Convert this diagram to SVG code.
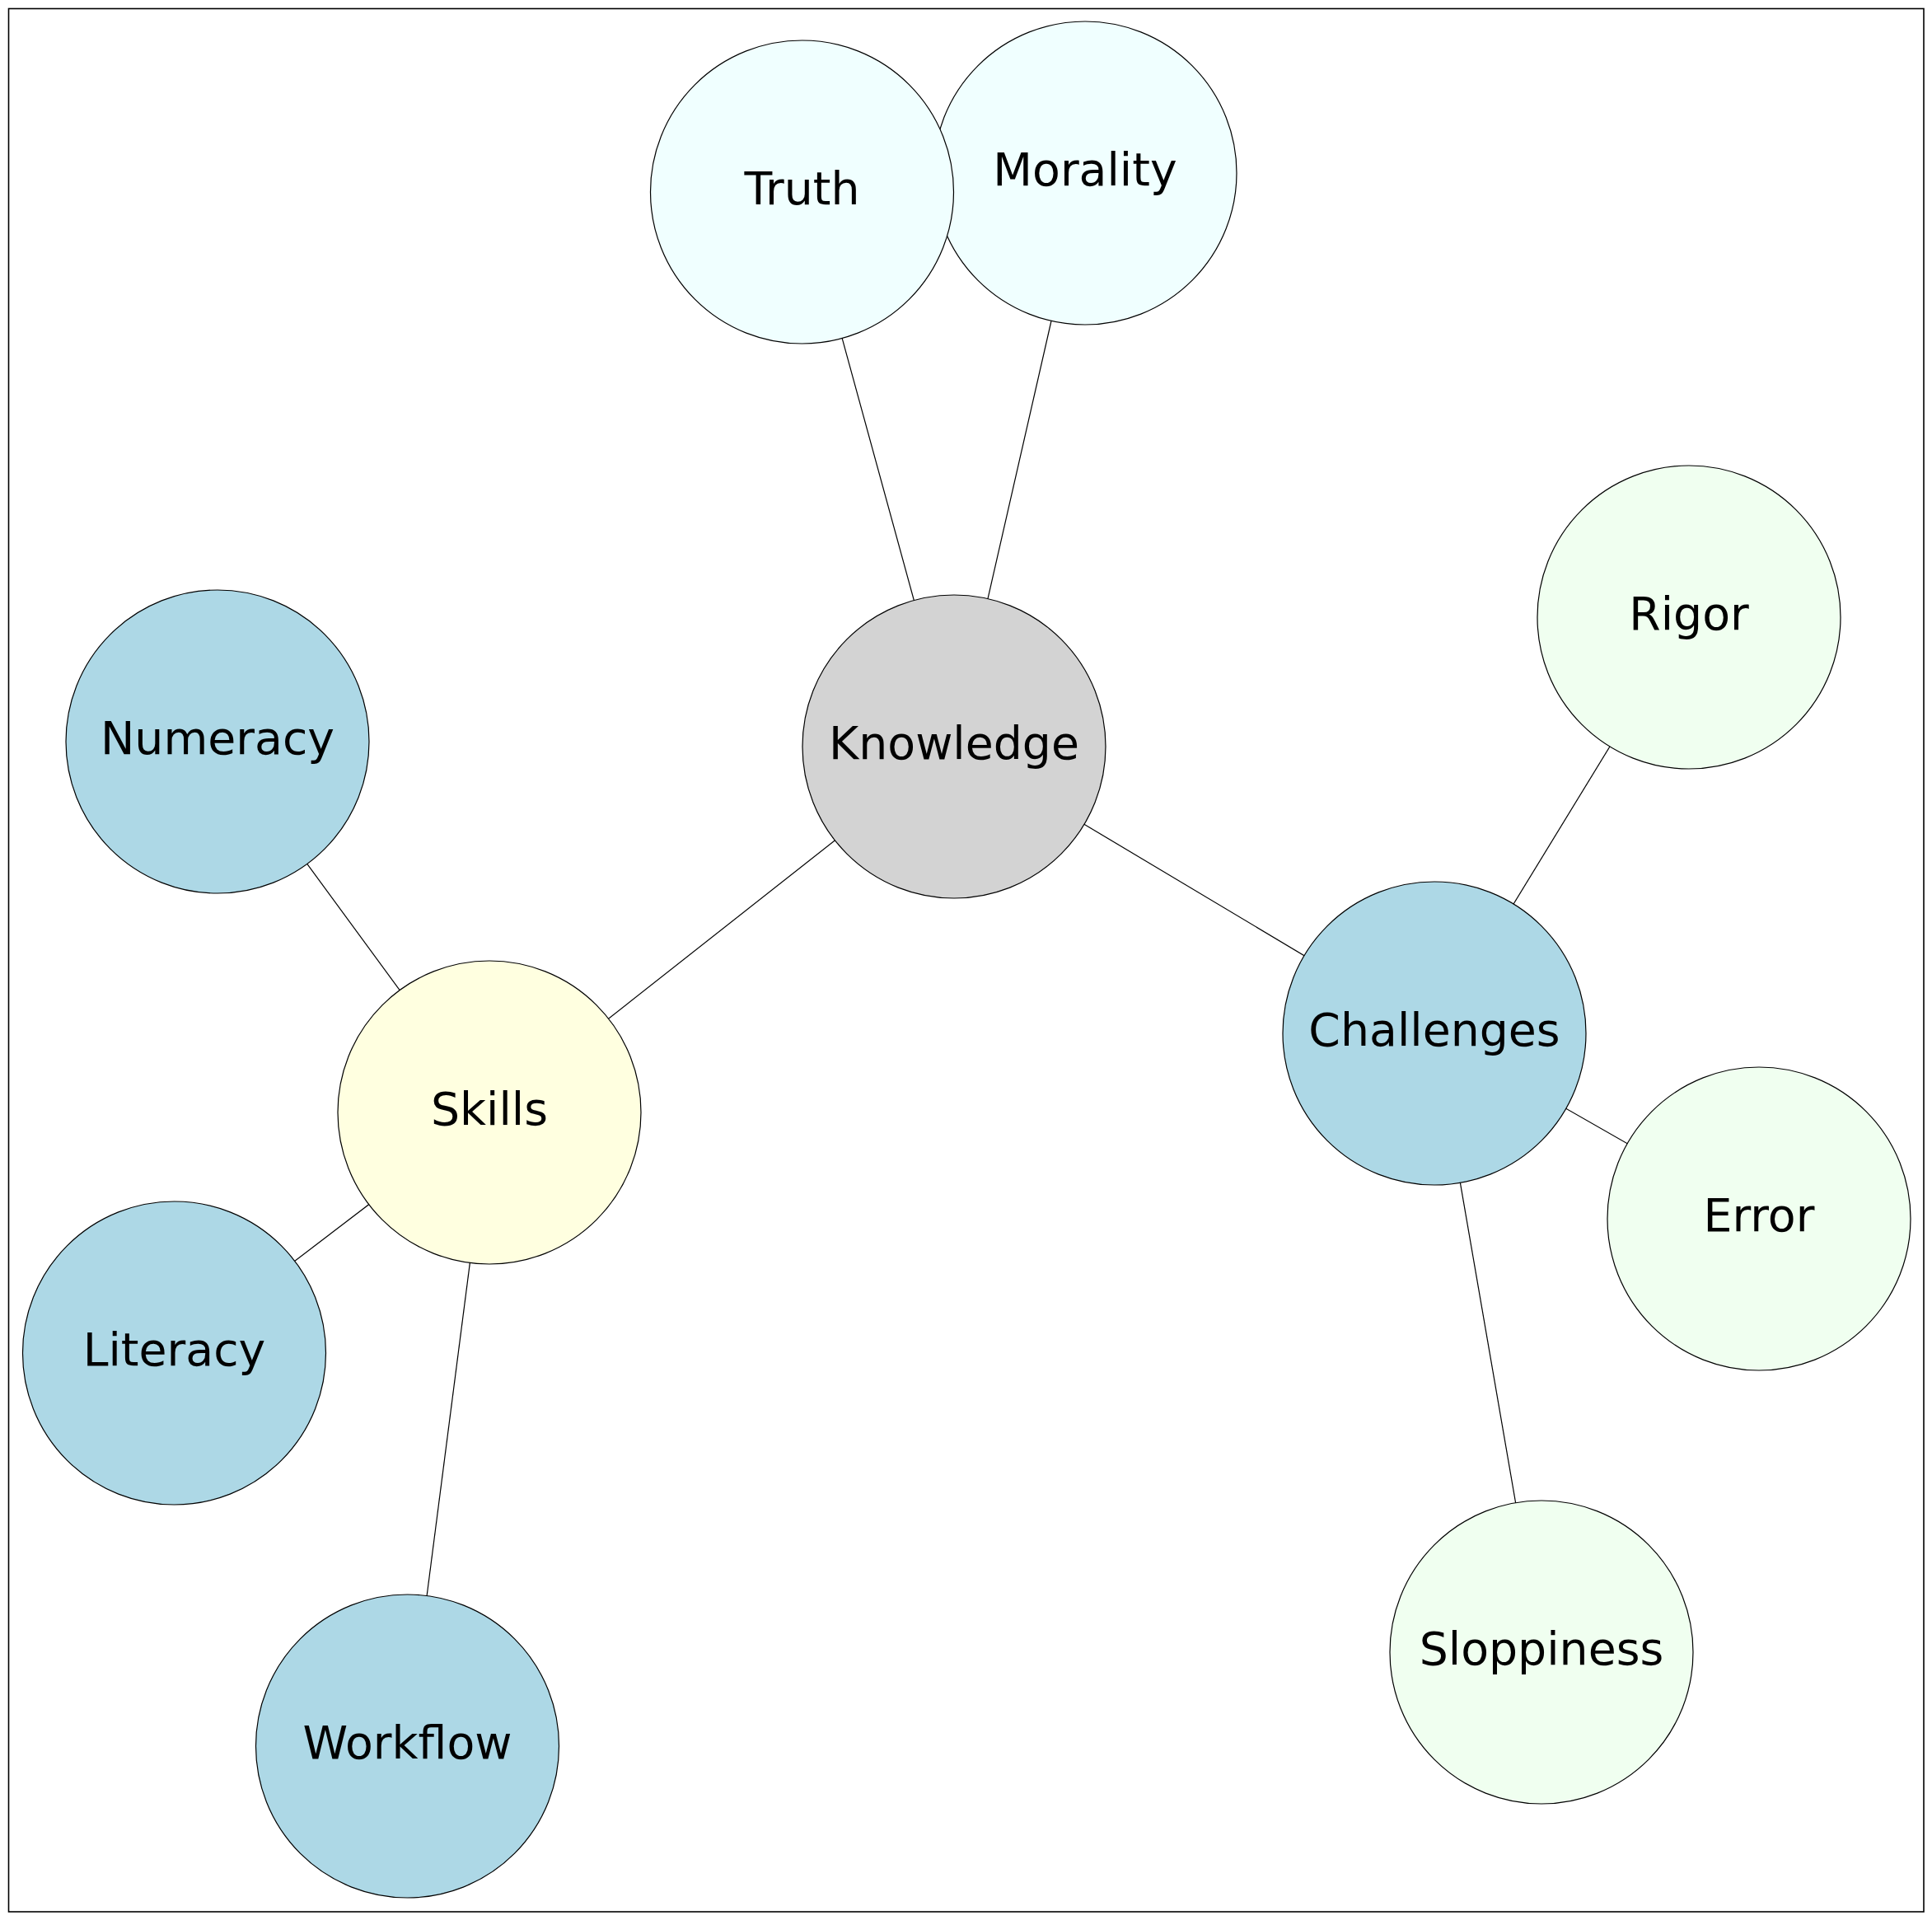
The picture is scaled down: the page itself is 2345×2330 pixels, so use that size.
<svg xmlns="http://www.w3.org/2000/svg" width="2345" height="2330" viewBox="0 0 2345 2330">
<style>
.node{stroke:#000;stroke-width:1.2}
.lbl{font-family:"DejaVu Sans",sans-serif;font-size:55.3px;text-anchor:middle;fill:#000}
.edge{stroke:#000;stroke-width:1.2;fill:none}
</style>
<rect x="0" y="0" width="2345" height="2330" fill="#fff"/>
<rect x="10.5" y="10.5" width="2324.5" height="2309.5" fill="none" stroke="#000" stroke-width="1.6"/>
<g id="connectors">
<line class="edge" x1="1158" y1="906" x2="973.5" y2="233"/>
<line class="edge" x1="1158" y1="906" x2="1317" y2="210"/>
<line class="edge" x1="1158" y1="906" x2="594" y2="1350"/>
<line class="edge" x1="1158" y1="906" x2="1741" y2="1254"/>
<line class="edge" x1="594" y1="1350" x2="264" y2="900"/>
<line class="edge" x1="594" y1="1350" x2="211.5" y2="1642"/>
<line class="edge" x1="594" y1="1350" x2="494.5" y2="2119"/>
<line class="edge" x1="1741" y1="1254" x2="2050" y2="749"/>
<line class="edge" x1="1741" y1="1254" x2="2135" y2="1479"/>
<line class="edge" x1="1741" y1="1254" x2="1871" y2="2005"/>
</g>
<g id="node-morality"><circle class="node" cx="1317" cy="210" r="184" fill="#f0ffff"/><text class="lbl" x="1317" y="225">Morality</text></g>
<g id="node-truth"><circle class="node" cx="973.5" cy="233" r="184" fill="#f0ffff"/><text class="lbl" x="973.5" y="248">Truth</text></g>
<g id="node-knowledge"><circle class="node" cx="1158" cy="906" r="184" fill="#d3d3d3"/><text class="lbl" x="1158" y="921">Knowledge</text></g>
<g id="node-rigor"><circle class="node" cx="2050" cy="749" r="184" fill="#f0fff0"/><text class="lbl" x="2050" y="764">Rigor</text></g>
<g id="node-numeracy"><circle class="node" cx="264" cy="900" r="184" fill="#add8e6"/><text class="lbl" x="264" y="915">Numeracy</text></g>
<g id="node-challenges"><circle class="node" cx="1741" cy="1254" r="184" fill="#add8e6"/><text class="lbl" x="1741" y="1269">Challenges</text></g>
<g id="node-skills"><circle class="node" cx="594" cy="1350" r="184" fill="#ffffe0"/><text class="lbl" x="594" y="1365">Skills</text></g>
<g id="node-error"><circle class="node" cx="2135" cy="1479" r="184" fill="#f0fff0"/><text class="lbl" x="2135" y="1494">Error</text></g>
<g id="node-literacy"><circle class="node" cx="211.5" cy="1642" r="184" fill="#add8e6"/><text class="lbl" x="211.5" y="1657">Literacy</text></g>
<g id="node-sloppiness"><circle class="node" cx="1871" cy="2005" r="184" fill="#f0fff0"/><text class="lbl" x="1871" y="2020">Sloppiness</text></g>
<g id="node-workflow"><circle class="node" cx="494.5" cy="2119" r="184" fill="#add8e6"/><text class="lbl" x="494.5" y="2134">Workflow</text></g>
</svg>
